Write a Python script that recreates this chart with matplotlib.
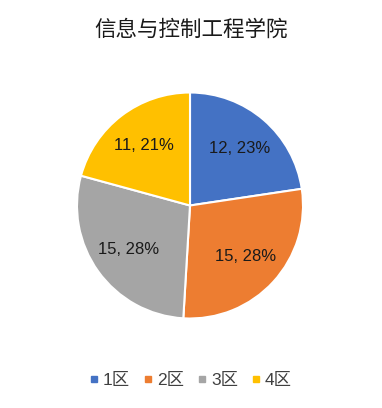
import matplotlib
matplotlib.use("Agg")
import matplotlib.pyplot as plt
from matplotlib.lines import Line2D

plt.rcParams['font.family'] = ['Liberation Sans', 'Noto Sans CJK SC', 'DejaVu Sans']

title = "信息与控制工程学院"
categories = ["1区", "2区", "3区", "4区"]
values = [12, 15, 15, 11]
colors = ["#4472C4", "#ED7D31", "#A5A5A5", "#FFC000"]

W, H = 382, 408
fig = plt.figure(figsize=(W / 100, H / 100), dpi=100)
cx, cy, r = 190, 205.5, 113
ax = fig.add_axes([(cx - r) / W, (H - cy - r) / H, 2 * r / W, 2 * r / H])

total = sum(values)

def fmt(p):
    v = int(round(p * total / 100.0))
    return f"{v}, {p:.0f}%"

wedges, texts, autotexts = ax.pie(
    values, colors=colors, startangle=90, counterclock=False,
    autopct=fmt, pctdistance=0.67, radius=1,
    wedgeprops=dict(edgecolor="white", linewidth=1.5),
    textprops=dict(fontsize=12, color="#1a1a1a"))
ax.set_xlim(-1, 1)
ax.set_ylim(-1, 1)
ax.set_aspect("equal")
ax.axis("off")

fig.text(0.5, 1 - 30 / H, title, ha="center", va="center", fontsize=15.5,
         color="#1a1a1a", family=['Noto Sans CJK SC', 'DejaVu Sans'])

handles = [Line2D([], [], marker="s", linestyle="none", markersize=5,
                  markerfacecolor=c, markeredgecolor=c) for c in colors]
fig.legend(handles, categories, loc="center", bbox_to_anchor=(0.5, 1 - 380 / H),
           ncol=4, frameon=False, fontsize=12.5, handlelength=0.5,
           handletextpad=0.25, columnspacing=0.8, labelcolor="#404040")

fig.savefig("out.png", dpi=100, facecolor="white")
